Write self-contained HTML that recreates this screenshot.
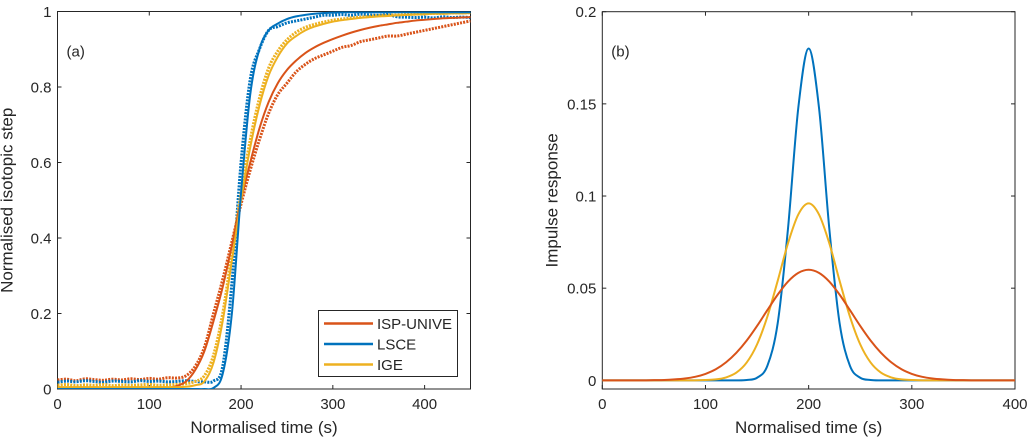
<!DOCTYPE html>
<html><head><meta charset="utf-8">
<style>
html,body{margin:0;padding:0;background:#fff;}
svg{display:block;font-family:"Liberation Sans",Arial,sans-serif;}
</style></head>
<body>
<svg id="fig" width="1032" height="443" viewBox="0 0 1032 443" xmlns="http://www.w3.org/2000/svg"></svg>
<script>
// ---------- Panel (a) data ----------
const stepX = [0,10,20,30,40,50,60,70,80,90,100,110,120,130,140,150,160,170,180,190,200,210,220,230,240,250,260,270,280,290,300,310,320,330,340,350,360,370,380,390,400,410,420,430,440,450];
const redFit  = [0.003,0.003,0.003,0.003,0.003,0.003,0.003,0.003,0.003,0.003,0.003,0.003,0.003,0.008,0.02,0.05,0.1,0.18,0.27,0.38,0.5,0.6,0.69,0.76,0.81,0.845,0.87,0.89,0.905,0.917,0.927,0.936,0.944,0.951,0.957,0.962,0.966,0.97,0.973,0.976,0.978,0.98,0.982,0.983,0.984,0.985];
const redData = [0.024,0.026,0.022,0.027,0.025,0.023,0.026,0.024,0.027,0.025,0.028,0.026,0.03,0.029,0.035,0.06,0.11,0.2,0.29,0.39,0.49,0.58,0.66,0.73,0.78,0.81,0.84,0.86,0.875,0.885,0.895,0.905,0.91,0.92,0.925,0.93,0.935,0.935,0.94,0.945,0.95,0.955,0.96,0.965,0.97,0.975];
const blueFit  = [0,0,0,0,0,0,0,0,0,0,0,0,0,0,0,0,0,0.003,0.04,0.2,0.52,0.78,0.9,0.95,0.968,0.98,0.987,0.991,0.994,0.996,0.997,0.998,0.998,0.998,0.998,0.998,0.998,0.998,0.998,0.998,0.998,0.998,0.998,0.998,0.998,0.998];
const blueData = [0.018,0.021,0.019,0.022,0.02,0.018,0.021,0.02,0.019,0.022,0.02,0.021,0.019,0.02,0.022,0.02,0.019,0.021,0.06,0.28,0.6,0.82,0.9,0.95,0.96,0.97,0.975,0.98,0.985,0.99,0.99,0.992,0.99,0.993,0.991,0.99,0.992,0.986,0.985,0.984,0.985,0.983,0.986,0.984,0.985,0.984];
const yellowFit  = [0.005,0.005,0.005,0.005,0.005,0.005,0.005,0.005,0.005,0.005,0.005,0.005,0.005,0.005,0.006,0.01,0.02,0.07,0.18,0.34,0.5,0.64,0.75,0.83,0.88,0.915,0.935,0.95,0.96,0.967,0.973,0.977,0.98,0.983,0.985,0.987,0.988,0.99,0.991,0.992,0.993,0.994,0.994,0.995,0.995,0.996];
const yellowData = [0.01,0.012,0.009,0.011,0.01,0.012,0.009,0.011,0.01,0.011,0.012,0.01,0.011,0.012,0.014,0.02,0.035,0.09,0.2,0.36,0.52,0.66,0.77,0.85,0.895,0.925,0.945,0.958,0.966,0.972,0.977,0.98,0.983,0.985,0.987,0.989,0.99,0.991,0.992,0.993,0.994,0.995,0.995,0.996,0.996,0.997];
const aXTicks = [0,100,200,300,400];
const aYTicks = [0,0.2,0.4,0.6,0.8,1];
const aYLabels = ["0","0.2","0.4","0.6","0.8","1"];
const legendLabels = ["ISP-UNIVE","LSCE","IGE"];

// ---------- Panel (b) data ----------
const impX = [0,10,20,30,40,50,60,70,80,90,100,110,120,130,140,150,160,170,180,190,200,210,220,230,240,250,260,270,280,290,300,310,320,330,340,350,360,370,380,390,400];
const impRed    = [0,0,0,0,0,0.0001,0.0002,0.0005,0.001,0.0019,0.0035,0.006,0.0098,0.015,0.0216,0.0295,0.0381,0.0465,0.0536,0.0583,0.06,0.0583,0.0536,0.0465,0.0381,0.0295,0.0216,0.015,0.0098,0.006,0.0035,0.0019,0.001,0.0005,0.0002,0.0001,0,0,0,0,0];
const impBlue   = [0,0,0,0,0,0,0,0,0,0,0,0,0,0,0.0002,0.0014,0.0079,0.031,0.0824,0.148,0.18,0.148,0.0824,0.031,0.0079,0.0014,0.0002,0,0,0,0,0,0,0,0,0,0,0,0,0,0];
const impYellow = [0,0,0,0,0,0,0,0,0,0,0.0002,0.0005,0.0016,0.0042,0.0097,0.0195,0.0346,0.054,0.0744,0.09,0.096,0.09,0.0744,0.054,0.0346,0.0195,0.0097,0.0042,0.0016,0.0005,0.0002,0,0,0,0,0,0,0,0,0,0];
const bXTicks = [0,100,200,300,400];
const bYTicks = [0,0.05,0.1,0.15,0.2];
const bYLabels = ["0","0.05","0.1","0.15","0.2"];

const RED="#D95319", BLUE="#0072BD", YEL="#EDB120";
const NS="http://www.w3.org/2000/svg";
const svg=document.getElementById('fig');
function mk(tag,attrs,parent){const e=document.createElementNS(NS,tag);for(const k in attrs)e.setAttribute(k,attrs[k]);(parent||svg).appendChild(e);return e;}
function smooth(pts){let d="M"+pts[0][0].toFixed(2)+","+pts[0][1].toFixed(2);
  for(let i=0;i<pts.length-1;i++){const p0=pts[Math.max(i-1,0)],p1=pts[i],p2=pts[i+1],p3=pts[Math.min(i+2,pts.length-1)];
    const c1=[p1[0]+(p2[0]-p0[0])/6,p1[1]+(p2[1]-p0[1])/6],c2=[p2[0]-(p3[0]-p1[0])/6,p2[1]-(p3[1]-p1[1])/6];
    d+="C"+c1[0].toFixed(2)+","+c1[1].toFixed(2)+" "+c2[0].toFixed(2)+","+c2[1].toFixed(2)+" "+p2[0].toFixed(2)+","+p2[1].toFixed(2);}
  return d;}

function axes(L,R,T,B,x0,x1,y0,y1,xt,yt,ylab,ytitle,panel,pname){
  const sx=v=>L+(v-x0)/(x1-x0)*(R-L), sy=v=>B-(v-y0)/(y1-y0)*(B-T);
  const g=mk('g',{});
  
  
  mk('rect',{x:L,y:T,width:R-L,height:B-T,fill:'none',stroke:'#262626','stroke-width':1},g);
  xt.forEach(v=>{const x=sx(v);
    mk('line',{x1:x,x2:x,y1:B,y2:B-4,stroke:'#262626'},g);
    mk('line',{x1:x,x2:x,y1:T,y2:T+4,stroke:'#262626'},g);
    const t=mk('text',{x:x,y:B+20,'text-anchor':'middle','font-size':15,fill:'#262626'},g);t.textContent=v;
    
    });
  yt.forEach((v,i)=>{const y=sy(v);
    mk('line',{x1:L,x2:L+4,y1:y,y2:y,stroke:'#262626'},g);
    mk('line',{x1:R,x2:R-4,y1:y,y2:y,stroke:'#262626'},g);
    const t=mk('text',{x:L-6,y:y+5.5,'text-anchor':'end','font-size':15,fill:'#262626'},g);t.textContent=ylab[i];
    
    });
  const xt2=mk('text',{x:(L+R)/2,y:B+44,'text-anchor':'middle','font-size':17,fill:'#262626'},g);xt2.textContent="Normalised time (s)";
  
  
  const yx=L-45, ym=(T+B)/2;
  const yt2=mk('text',{x:yx,y:ym,'text-anchor':'middle','font-size':17,fill:'#262626',transform:`rotate(-90 ${yx} ${ym})`},g);yt2.textContent=ytitle;
  
  
  const pl=mk('text',{x:L+9,y:T+45,'font-size':15,fill:'#262626'},g);pl.textContent=panel;
  
  
  return {sx,sy};
}

// Panel (a)
const A=axes(57.5,470.5,11.5,389,0,450,0,1,aXTicks,aYTicks,aYLabels,"Normalised isotopic step","(a)","panel-a");
mk('clipPath',{id:'clipA'}).appendChild(document.createElementNS(NS,'rect'));
const cr=document.querySelector('#clipA rect');cr.setAttribute('x',57.5);cr.setAttribute('y',11.5);cr.setAttribute('width',413);cr.setAttribute('height',377.5);
[[redData,RED,'isp-unive-data'],[blueData,BLUE,'lsce-data'],[yellowData,YEL,'ige-data']].forEach(([d,c,n])=>{
  const p=mk('path',{d:smooth(stepX.map((x,i)=>[A.sx(x),A.sy(d[i])])),fill:'none',stroke:c,'stroke-width':3,'stroke-dasharray':'2 1.2','clip-path':'url(#clipA)'});
  
  });
[[redFit,RED,'isp-unive-fit'],[yellowFit,YEL,'ige-fit'],[blueFit,BLUE,'lsce-fit']].forEach(([d,c,n])=>{
  const p=mk('path',{d:smooth(stepX.map((x,i)=>[A.sx(x),A.sy(d[i])])),fill:'none',stroke:c,'stroke-width':2,'clip-path':'url(#clipA)'});
  
  });
// legend
const lg=mk('g',{});


mk('rect',{x:318.5,y:310.5,width:139,height:66,fill:'#fff',stroke:'#262626'},lg);
[RED,BLUE,YEL].forEach((c,i)=>{const y=323.5+i*20.5;
  mk('line',{x1:324,x2:373,y1:y,y2:y,stroke:c,'stroke-width':2.5},lg);
  const t=mk('text',{x:377,y:y+5.5,'font-size':15,fill:'#262626'},lg);t.textContent=legendLabels[i];
  
  });

// Panel (b)
const Bx=axes(602.3,1015,11.7,389,0,400,-0.0047,0.2,bXTicks,bYTicks,bYLabels,"Impulse response","(b)","panel-b");
[[impBlue,BLUE,'lsce-impulse'],[impYellow,YEL,'ige-impulse'],[impRed,RED,'isp-unive-impulse']].forEach(([d,c,n])=>{
  const p=mk('path',{d:smooth(impX.map((x,i)=>[Bx.sx(x),Bx.sy(d[i])])),fill:'none',stroke:c,'stroke-width':2});
  
  });
</script>
</body></html>
